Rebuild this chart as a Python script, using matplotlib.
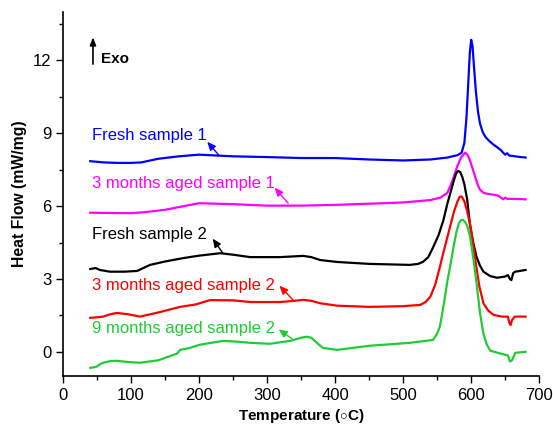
import numpy as np
import matplotlib
matplotlib.use("Agg")
import matplotlib.pyplot as plt
from matplotlib.ticker import MultipleLocator

plt.rcParams['font.family'] = ['Liberation Sans', 'DejaVu Sans']
plt.rcParams['mathtext.fontset'] = 'custom'
plt.rcParams['mathtext.rm'] = 'Liberation Sans'

# Fresh sample 1
t_f1 = [40, 60, 80, 100, 115, 140, 170, 200, 250, 300, 350, 400, 450, 500, 540, 565, 580,
        586, 590, 593, 596, 598, 600, 602, 604, 607, 610, 613, 617, 621, 626, 632, 638, 644,
        647, 650, 653, 656, 660, 670, 680]
h_f1 = [7.85, 7.8, 7.78, 7.78, 7.8, 7.95, 8.05, 8.12, 8.05, 8.02, 7.98, 7.98, 7.92, 7.88, 7.92, 8.0, 8.1,
        8.2, 8.6, 9.6, 11.2, 12.3, 12.85, 12.6, 11.8, 10.7, 9.9, 9.4, 9.05, 8.85, 8.7, 8.55, 8.43, 8.3,
        8.2, 8.12, 8.18, 8.08, 8.07, 8.03, 8.0]

# 3 months aged sample 1
t_a1 = [40, 60, 100, 120, 150, 200, 250, 300, 350, 400, 450, 500, 540, 555, 565, 572, 579,
        585, 591, 595, 598, 602, 606, 610, 613, 618, 625, 638, 644, 647, 650, 653, 665, 680]
h_a1 = [5.73, 5.72, 5.71, 5.75, 5.85, 6.12, 6.08, 6.02, 6.02, 6.05, 6.1, 6.15, 6.25, 6.35, 6.55, 7.0, 7.6,
        8.0, 8.2, 8.1, 7.9, 7.55, 7.2, 6.85, 6.68, 6.55, 6.5, 6.45, 6.35, 6.28, 6.35, 6.3, 6.3, 6.28]

# Fresh sample 2
t_f2 = [40, 48, 54, 69, 90, 109, 118, 128, 150, 177, 200, 231, 250, 275, 319, 353, 365, 378, 403, 451,
        510, 522, 529, 537, 544, 552, 559, 565, 569, 575, 578, 581, 584, 587, 590, 594, 598, 603,
        608, 613, 618, 628, 638, 650, 654, 657, 659, 662, 665, 680]
h_f2 = [3.41, 3.45, 3.37, 3.3, 3.3, 3.33, 3.45, 3.58, 3.72, 3.86, 3.96, 4.06, 4.0, 3.9, 3.9, 3.95, 3.9, 3.78, 3.7, 3.62,
        3.58, 3.62, 3.7, 3.9, 4.3, 4.8, 5.4, 6.1, 6.5, 7.1, 7.35, 7.45, 7.4, 7.2, 6.9, 6.3, 5.3, 4.5,
        3.9, 3.55, 3.3, 3.12, 3.05, 3.1, 3.16, 3.0, 2.95, 3.25, 3.3, 3.37]

# 3 months aged sample 2
t_a2 = [40, 50, 59, 70, 79, 95, 113, 140, 172, 195, 216, 250, 275, 319, 340, 353, 365, 378, 403, 451,
        500, 525, 533, 540, 547, 554, 562, 569, 575, 580, 583, 586, 590, 594, 598, 602, 606, 612, 618,
        625, 633, 645, 654, 656, 658, 660, 664, 680]
h_a2 = [1.4, 1.42, 1.45, 1.55, 1.6, 1.55, 1.45, 1.62, 1.85, 1.95, 2.13, 2.12, 2.05, 2.05, 2.1, 2.14, 2.1, 2.0, 1.9, 1.85,
        1.88, 1.93, 2.05, 2.27, 2.75, 3.5, 4.4, 5.15, 5.8, 6.2, 6.38, 6.4, 6.2, 5.8, 5.3, 4.6, 3.8, 2.7, 2.0,
        1.7, 1.52, 1.45, 1.45, 1.2, 1.1, 1.3, 1.45, 1.45]

# 9 months aged sample 2
t_a9 = [40, 47, 50, 55, 59, 70, 79, 95, 113, 140, 167, 170, 172, 185, 201, 235, 255, 275, 304, 334,
        350, 358, 365, 372, 382, 403, 451, 510, 544, 549, 554, 560, 565, 569, 574, 578, 582, 585, 588,
        591, 594, 598, 603, 608, 613, 618, 623, 628, 640, 647, 654, 657, 660, 665, 680]
h_a9 = [-0.66, -0.63, -0.6, -0.5, -0.45, -0.38, -0.37, -0.42, -0.45, -0.35, -0.08, 0.0, 0.08, 0.15, 0.29, 0.45, 0.42, 0.37, 0.33, 0.45,
        0.58, 0.62, 0.58, 0.4, 0.16, 0.08, 0.25, 0.37, 0.49, 0.7, 1.03, 2.0, 2.9, 3.5, 4.3, 4.9, 5.3, 5.42, 5.43,
        5.35, 5.2, 4.8, 3.9, 2.8, 1.6, 0.75, 0.3, 0.05, -0.05, -0.1, -0.15, -0.4, -0.35, -0.04, 0.0]

series = [
    (t_f1, h_f1, '#0000ff', 'Fresh sample 1', (42.5, 8.9), (229, 8.1), (212, 8.65)),
    (t_a1, h_a1, '#ff00ff', '3 months aged sample 1', (42.5, 6.95), (331, 6.12), (311, 6.76)),
    (t_f2, h_f2, '#000000', 'Fresh sample 2', (42.5, 4.85), (235, 4.06), (220, 4.66)),
    (t_a2, h_a2, '#ff0000', '3 months aged sample 2', (42.5, 2.75), (338, 2.14), (318, 2.72)),
    (t_a9, h_a9, '#1fcc35', '9 months aged sample 2', (42.5, 0.94), (337, 0.53), (317, 0.92)),
]

fig = plt.figure(figsize=(5.53, 4.24), dpi=100)
ax = fig.add_axes([0.114, 0.113, 0.861, 0.859])

for t, h, color, label, txt_pos, tail, head in series:
    ax.plot(t, h, color=color, linewidth=1.6, solid_joinstyle='round')
    ax.text(txt_pos[0], txt_pos[1], label, color=color, fontsize=12, va='center', ha='left')
    ax.annotate('', xy=head, xytext=tail,
                arrowprops=dict(arrowstyle='-|>,head_length=0.5,head_width=0.22',
                                color=color, lw=1.0, shrinkA=0, shrinkB=0))

# Exo marker
ax.annotate('', xy=(44, 12.95), xytext=(44, 11.85),
            arrowprops=dict(arrowstyle='-|>,head_length=0.45,head_width=0.18',
                            color='k', lw=1.2, shrinkA=0, shrinkB=0))
ax.text(56, 12.05, 'Exo', fontsize=11, fontweight='bold', va='center', ha='left')

ax.set_xlim(0, 700)
ax.set_ylim(-1, 14)
ax.set_xticks(np.arange(0, 701, 100))
ax.set_yticks(np.arange(0, 13, 3))
ax.xaxis.set_minor_locator(MultipleLocator(50))
ax.yaxis.set_minor_locator(MultipleLocator(1.5))
ax.tick_params(which='both', direction='out', labelsize=12)
ax.tick_params(which='major', length=5, width=1)
ax.tick_params(which='minor', length=3, width=1)
ax.spines['top'].set_visible(False)
ax.spines['right'].set_visible(False)
ax.spines['left'].set_linewidth(1.2)
ax.spines['bottom'].set_linewidth(1.2)

ax.set_xlabel(r'Temperature ($\circ$C)', fontsize=11, fontweight='bold', labelpad=3)
ax.set_ylabel('Heat Flow (mW/mg)', fontsize=11.3, fontweight='bold', labelpad=4)

fig.savefig('out.png', dpi=100)
